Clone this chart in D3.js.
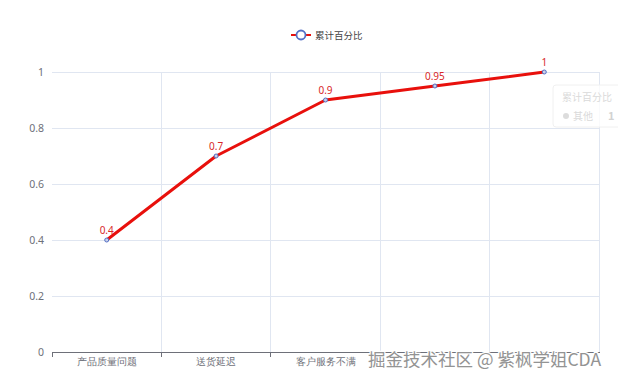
<!DOCTYPE html>
<html><head><meta charset="utf-8">
<script src="https://cdn.jsdelivr.net/npm/d3@7/dist/d3.min.js"></script>
<style>
html,body{margin:0;padding:0;background:#fff;}
svg{display:block;font-family:"Noto Sans CJK SC","Noto Sans",sans-serif;}
</style></head>
<body><svg id="c" width="618" height="381"></svg>
<script>
const categories = ["产品质量问题", "送货延迟", "客户服务不满", "价格过高", "其他"];
const values = [0.4, 0.7, 0.9, 0.95, 1];
const yTicks = [0, 0.2, 0.4, 0.6, 0.8, 1];
const seriesName = "累计百分比";
const watermark = "掘金技术社区 @ 紫枫学姐CDA";
// labels of the last two categories are covered by the watermark in the reference
const visibleLabelCount = 3;

const svg = d3.select("#c");
const L = 52, R = 599, T = 72, B = 352;
const x = d3.scaleBand().domain(categories).range([L, R]);
const y = d3.scaleLinear().domain([0, 1]).range([B, T]);

// horizontal grid
svg.append("g").selectAll("line").data(yTicks.filter(d => d > 0)).join("line")
  .attr("x1", L).attr("x2", R).attr("y1", d => y(d)).attr("y2", d => y(d))
  .attr("stroke", "#E0E6F1").attr("stroke-width", 1).attr("shape-rendering", "crispEdges");
// vertical split lines
const bounds = categories.map(c => x(c)).concat([R]);
svg.append("g").selectAll("line").data(bounds.slice(1)).join("line")
  .attr("x1", d => d).attr("x2", d => d).attr("y1", T).attr("y2", B)
  .attr("stroke", "#E0E6F1").attr("stroke-width", 1).attr("shape-rendering", "crispEdges");

// y axis labels
const ya = svg.append("g").attr("transform", `translate(${L},0)`)
  .call(d3.axisLeft(y).tickValues(yTicks).tickSize(0).tickPadding(8).tickFormat(d => String(d)));
ya.select(".domain").remove();
ya.selectAll("text").attr("fill", "#6E7079").attr("font-size", 10.5)
  .attr("font-family", "'Noto Sans','DejaVu Sans',sans-serif");

// x axis
const xa = svg.append("g").attr("transform", `translate(0,${B})`)
  .call(d3.axisBottom(x).tickSize(0).tickPadding(6)
    .tickFormat(d => categories.indexOf(d) < visibleLabelCount ? d : ""));
xa.select(".domain").attr("stroke", "#6E7079").attr("shape-rendering", "crispEdges");
xa.selectAll("text").attr("fill", "#6E7079").attr("font-size", 9.5);
svg.append("g").selectAll("line").data(bounds).join("line")
  .attr("x1", d => d).attr("x2", d => d).attr("y1", B).attr("y2", B + 5)
  .attr("stroke", "#6E7079").attr("shape-rendering", "crispEdges");

// line
const cx = c => x(c) + x.bandwidth() / 2;
const pts = categories.map((c, i) => [cx(c), y(values[i])]);
svg.append("path").attr("d", d3.line()(pts)).attr("fill", "none")
  .attr("stroke", "#e8100c").attr("stroke-width", 3).attr("stroke-linejoin", "round");
svg.append("g").selectAll("circle").data(pts).join("circle")
  .attr("cx", d => d[0]).attr("cy", d => d[1]).attr("r", 2)
  .attr("fill", "#c9d0e8").attr("stroke", "#5470c6").attr("stroke-width", 1);
svg.append("g").selectAll("text").data(categories).join("text")
  .attr("x", cx).attr("y", (c, i) => y(values[i]) - 6)
  .attr("text-anchor", "middle").attr("font-size", 10)
  .attr("font-family", "'Noto Sans','DejaVu Sans',sans-serif")
  .attr("fill", "#d8282a").text((c, i) => String(values[i]));

// legend
const lg = svg.append("g").attr("transform", "translate(291,35)");
lg.append("line").attr("x1", 0).attr("x2", 20).attr("y1", 0).attr("y2", 0)
  .attr("stroke", "#e8100c").attr("stroke-width", 2);
lg.append("circle").attr("cx", 10).attr("cy", 0).attr("r", 4.5)
  .attr("fill", "#fff").attr("stroke", "#5470c6").attr("stroke-width", 1.8);
lg.append("text").attr("x", 24).attr("y", 3.5).attr("font-size", 9.5)
  .attr("fill", "#444").text(seriesName);

// faded tooltip
const tt = svg.append("g").attr("transform", "translate(553,85)");
tt.append("rect").attr("width", 80).attr("height", 42).attr("rx", 3)
  .attr("fill", "#fff").attr("fill-opacity", 0.8).attr("stroke", "#f0f0f0");
tt.append("text").attr("x", 9).attr("y", 16).attr("font-size", 10)
  .attr("fill", "#dadada").text(seriesName);
tt.append("circle").attr("cx", 13).attr("cy", 31).attr("r", 3).attr("fill", "#dcdcdc");
tt.append("text").attr("x", 20).attr("y", 35).attr("font-size", 10)
  .attr("fill", "#dadada").text(categories[4]);
tt.append("text").attr("x", 55).attr("y", 35).attr("font-size", 11).attr("font-weight", "bold")
  .attr("fill", "#d2d2d2").text(String(values[4]));

// watermark
svg.append("rect").attr("x", 366).attr("y", 353).attr("width", 252).attr("height", 22).attr("fill", "#fff");
svg.append("text").attr("x", 368).attr("y", 366).attr("font-size", 17.5)
  .attr("fill", "#939393").attr("stroke", "#fff").attr("stroke-width", 2.5)
  .attr("paint-order", "stroke").text(watermark);
</script></body></html>
